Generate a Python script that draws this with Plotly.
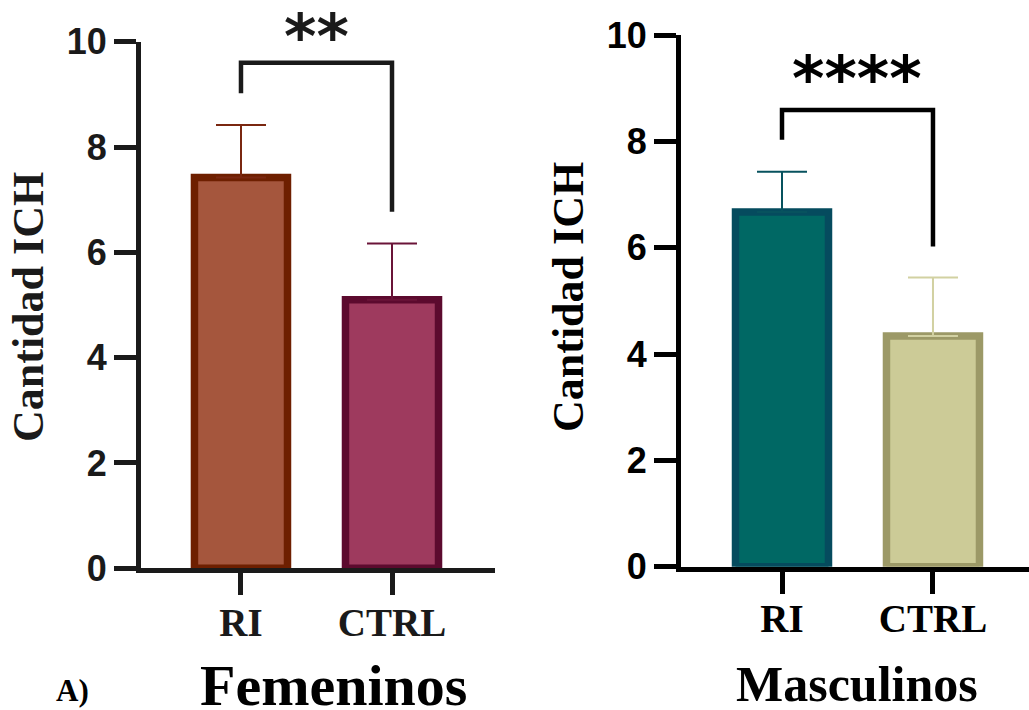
import plotly.graph_objects as go

# ---------------- data ----------------
categories = ["RI", "CTRL"]
fem_means = [7.42, 5.10]
fem_err = [1.00, 1.07]
masc_means = [6.67, 4.34]
masc_err = [0.76, 1.10]
y_ticks = [0, 2, 4, 6, 8, 10]
y_range = [0, 10]

fem_sig = "**"
masc_sig = "****"
# bracket: [left leg bottom, top, right leg bottom]
fem_bracket = [9.02, 9.60, 6.77]
masc_bracket = [8.03, 8.59, 6.02]
fem_sig_y = 10.10
masc_sig_y = 9.18

fem_fill = ["#A5563D", "#9E3A5E"]
fem_line = ["#6E1F00", "#5C0A2E"]
fem_errc = ["#7A2710", "#6A1438"]
masc_fill = ["#006864", "#CCCB97"]
masc_line = ["#054B5E", "#9C9967"]
masc_errc = ["#07525E", "#D2D1A2"]

W, H = 1029, 710
fig = go.Figure()

def add_panel(means, errs, fills, lines, errc, xa, ya):
    for i, c in enumerate(categories):
        fig.add_trace(go.Bar(
            x=[c], y=[means[i]], width=[0.616],
            marker=dict(color=fills[i], line=dict(color=lines[i], width=7.5)),
            error_y=dict(type="data", symmetric=False, array=[errs[i]], arrayminus=[0],
                         color=errc[i], thickness=2, width=25),
            xaxis=xa, yaxis=ya, showlegend=False, hoverinfo="skip"))

add_panel(fem_means, fem_err, fem_fill, fem_line, fem_errc, "x", "y")
add_panel(masc_means, masc_err, masc_fill, masc_line, masc_errc, "x2", "y2")

def px_x(p):
    return p / W

def px_y(p):
    return 1 - p / H

def dom_frac(v):
    return (v - y_range[0]) / (y_range[1] - y_range[0])

axis_common = dict(showgrid=False, zeroline=False, ticks="outside", ticklen=22, tickwidth=5,
                   showline=True, linewidth=5, automargin=False)

fig.update_layout(
    width=W, height=H, autosize=False,
    margin=dict(l=0, r=0, t=0, b=0, pad=0),
    paper_bgcolor="white", plot_bgcolor="white",
    barmode="overlay",
    xaxis=dict(domain=[px_x(141), px_x(495)], range=[-0.662, 1.682], type="category",
               categoryorder="array", categoryarray=categories,
               linecolor="#1a1a1a", tickcolor="#1a1a1a", ticklabelstandoff=-6,
               tickfont=dict(family="Liberation Serif", size=39, color="#1a1a1a", weight="bold"),
               anchor="y", **axis_common),
    yaxis=dict(domain=[px_y(568.3), px_y(41.7)], range=y_range, tickvals=y_ticks,
               linecolor="#1a1a1a", tickcolor="#1a1a1a",
               tickfont=dict(family="Liberation Sans", size=36, color="#1a1a1a", weight="bold"),
               anchor="x", **axis_common),
    xaxis2=dict(domain=[px_x(681), 1.0], range=[-0.669, 1.636], type="category",
                categoryorder="array", categoryarray=categories,
                linecolor="#000000", tickcolor="#000000", ticklabelstandoff=-9,
                tickfont=dict(family="Liberation Serif", size=39, color="#000000", weight="bold"),
                anchor="y2", **axis_common),
    yaxis2=dict(domain=[px_y(566.7), px_y(35)], range=y_range, tickvals=y_ticks,
                linecolor="#000000", tickcolor="#000000",
                tickfont=dict(family="Liberation Sans", size=36, color="#000000", weight="bold"),
                anchor="x2", **axis_common),
)

def bracket(br, xref, yref, color):
    path = f"M 0,{br[0]} L 0,{br[1]} L 1,{br[1]} L 1,{br[2]}"
    fig.add_shape(type="path", path=path, xref=xref, yref=yref,
                  line=dict(color=color, width=4.5))

bracket(fem_bracket, "x", "y", "#1a1a1a")
bracket(masc_bracket, "x2", "y2", "#000000")

fig.add_annotation(x=0.5, y=dom_frac(fem_sig_y), xref="x", yref="y domain", text=fem_sig,
                   showarrow=False,
                   font=dict(family="DejaVu Sans", size=62, color="#1a1a1a", weight="bold"),
                   xanchor="center", yanchor="middle")
fig.add_annotation(x=0.5, y=dom_frac(masc_sig_y), xref="x2", yref="y2 domain", text=masc_sig,
                   showarrow=False,
                   font=dict(family="DejaVu Sans", size=62, color="#000000", weight="bold"),
                   xanchor="center", yanchor="middle")

serif_b = lambda s, c="#000000": dict(family="Liberation Serif", size=s, color=c, weight="bold")

fig.add_annotation(x=px_x(28), y=px_y(307), xref="paper", yref="paper", text="Cantidad ICH",
                   textangle=-90, showarrow=False, font=serif_b(44, "#1a1a1a"),
                   xanchor="center", yanchor="middle")
fig.add_annotation(x=px_x(568), y=px_y(297), xref="paper", yref="paper", text="Cantidad ICH",
                   textangle=-90, showarrow=False, font=serif_b(44),
                   xanchor="center", yanchor="middle")
fig.add_annotation(x=px_x(333), y=px_y(685), xref="paper", yref="paper", text="Femeninos",
                   showarrow=False, font=serif_b(58), xanchor="center", yanchor="middle")
fig.add_annotation(x=px_x(857), y=px_y(684), xref="paper", yref="paper", text="Masculinos",
                   showarrow=False, font=serif_b(50), xanchor="center", yanchor="middle")
fig.add_annotation(x=px_x(72), y=px_y(690), xref="paper", yref="paper", text="A)",
                   showarrow=False, font=serif_b(31), xanchor="center", yanchor="middle")

fig.write_html("out.html")
